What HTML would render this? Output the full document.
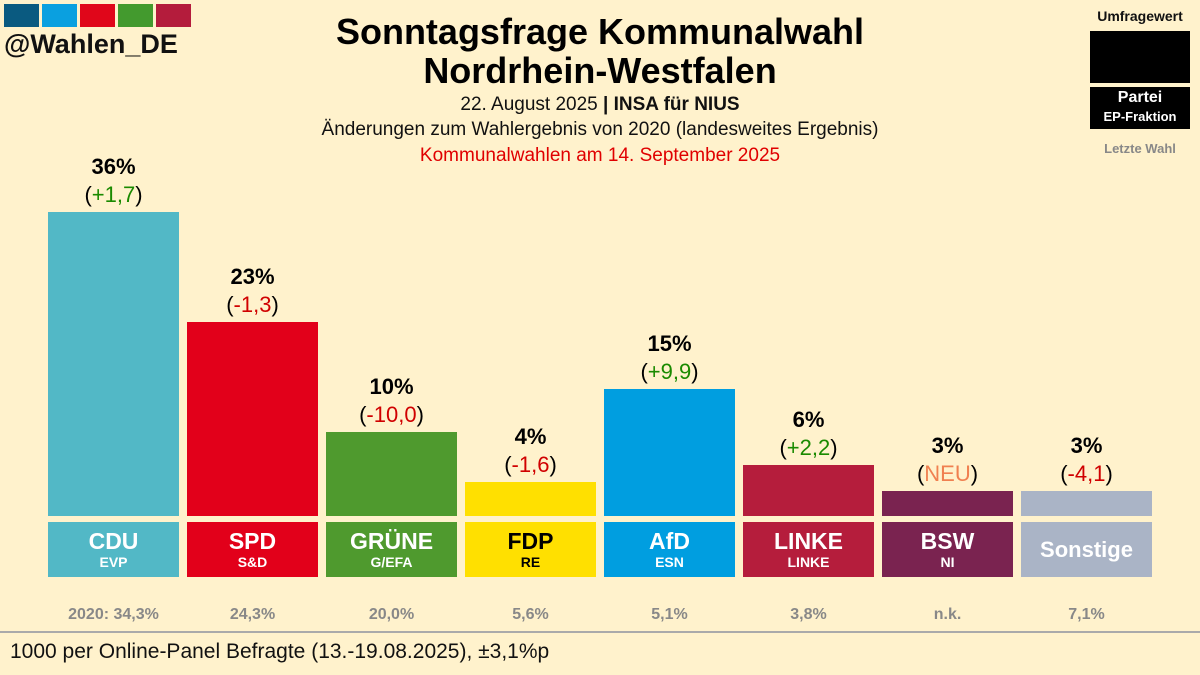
<!DOCTYPE html>
<html><head><meta charset="utf-8">
<style>
body{margin:0;width:1200px;height:675px;background:#fff2cc;font-family:"Liberation Sans",sans-serif;overflow:hidden;position:relative}
.abs{position:absolute}
.c{text-align:center}
</style></head><body>
<div class="abs" style="left:4px;top:4px;width:190px;height:23px">
<div class="abs" style="left:0;width:35px;height:23px;background:#0a5a80"></div>
<div class="abs" style="left:38px;width:35px;height:23px;background:#0aa0e0"></div>
<div class="abs" style="left:76px;width:35px;height:23px;background:#e0061a"></div>
<div class="abs" style="left:114px;width:35px;height:23px;background:#439a2e"></div>
<div class="abs" style="left:152px;width:35px;height:23px;background:#b41c3c"></div>
</div>
<div class="abs" style="left:4px;top:29px;font-size:27px;font-weight:bold;color:#111">@Wahlen_DE</div>
<div class="abs c" style="left:250px;width:700px;top:12px;font-size:36px;font-weight:bold;line-height:39px;color:#000">Sonntagsfrage Kommunalwahl<br>Nordrhein-Westfalen</div>
<div class="abs c" style="left:250px;width:700px;top:94px;font-size:19px;color:#111">22. August 2025 <b>| INSA für NIUS</b></div>
<div class="abs c" style="left:250px;width:700px;top:119px;font-size:19px;color:#111">Änderungen zum Wahlergebnis von 2020 (landesweites Ergebnis)</div>
<div class="abs c" style="left:250px;width:700px;top:145px;font-size:19px;color:#e00000">Kommunalwahlen am 14. September 2025</div>
<div class="abs c" style="left:1085px;top:8px;width:110px">
<div style="font-size:14px;font-weight:bold;color:#111">Umfragewert</div>
<div style="margin:7px auto 0;width:100px;height:52px;background:#000"></div>
<div style="margin:4px auto 0;width:100px;height:42px;background:#000;color:#fff;font-weight:bold;font-size:16px;line-height:19px;padding-top:1px;box-sizing:border-box">Partei<br><span style="font-size:13px">EP-Fraktion</span></div>
<div style="margin-top:12px;font-size:13px;font-weight:bold;color:#888">Letzte Wahl</div>
</div>
<div id="chart"></div>
<div class="abs" style="left:0;top:631px;width:1200px;height:2px;background:#aaa"></div>
<div class="abs" style="left:10px;top:640px;font-size:21px;color:#111">1000 per Online-Panel Befragte (13.-19.08.2025), ±3,1%p</div>
<script>
const parties=["CDU","SPD","GRÜNE","FDP","AfD","LINKE","BSW","Sonstige"];
const groups=["EVP","S&D","G/EFA","RE","ESN","LINKE","NI",""];
const values=[36,23,10,4,15,6,3,3];
const changes=["+1,7","-1,3","-10,0","-1,6","+9,9","+2,2","NEU","-4,1"];
const last=["2020: 34,3%","24,3%","20,0%","5,6%","5,1%","3,8%","n.k.","7,1%"];
const colors=["#52b8c6","#e2001a","#4f9a2e","#ffe000","#009ee0","#b51d3c","#7a2350","#aab4c6"];
const textCol=["#fff","#fff","#fff","#000","#fff","#fff","#fff","#fff"];
const chCol=["#1a8a00","#d00000","#d00000","#d00000","#1a8a00","#1a8a00","#f08050","#d00000"];
const x0=48,pitch=139,bw=131,base=516,scale=8.44;
const xs=i=>x0+i*pitch, ys=v=>base-v*scale;
const ch=document.getElementById('chart');
values.forEach((v,i)=>{
 const b=document.createElement('div');b.className='abs';
 
 
 b.style.cssText=`left:${xs(i)}px;top:${ys(v)}px;width:${bw}px;height:${v*scale}px;background:${colors[i]}`;
 ch.appendChild(b);
 const l=document.createElement('div');l.className='abs c';
 
 
 l.style.cssText=`left:${xs(i)-10}px;width:${bw+20}px;top:${ys(v)-59}px;line-height:28px;color:#000`;
 l.innerHTML=`<div style="font-size:22px;font-weight:bold">${v}%</div><div style="font-size:22px">(<span style="color:${chCol[i]}">${changes[i]}</span>)</div>`;
 ch.appendChild(l);
 const p=document.createElement('div');p.className='abs c';
 
 
 p.style.cssText=`left:${xs(i)}px;top:522px;width:${bw}px;height:55px;background:${colors[i]};color:${textCol[i]};font-weight:bold`;
 p.innerHTML=groups[i]?`<div style="font-size:23px;margin-top:6px;line-height:26px">${parties[i]}</div><div style="font-size:14px;line-height:16px">${groups[i]}</div>`:`<div style="font-size:22px;line-height:55px">${parties[i]}</div>`;
 ch.appendChild(p);
 const t=document.createElement('div');t.className='abs c';
 
 
 t.style.cssText=`left:${xs(i)-10}px;width:${bw+20}px;top:606px;font-size:16px;font-weight:bold;color:#888`;
 t.textContent=last[i];
 ch.appendChild(t);
});
</script>
</body></html>
